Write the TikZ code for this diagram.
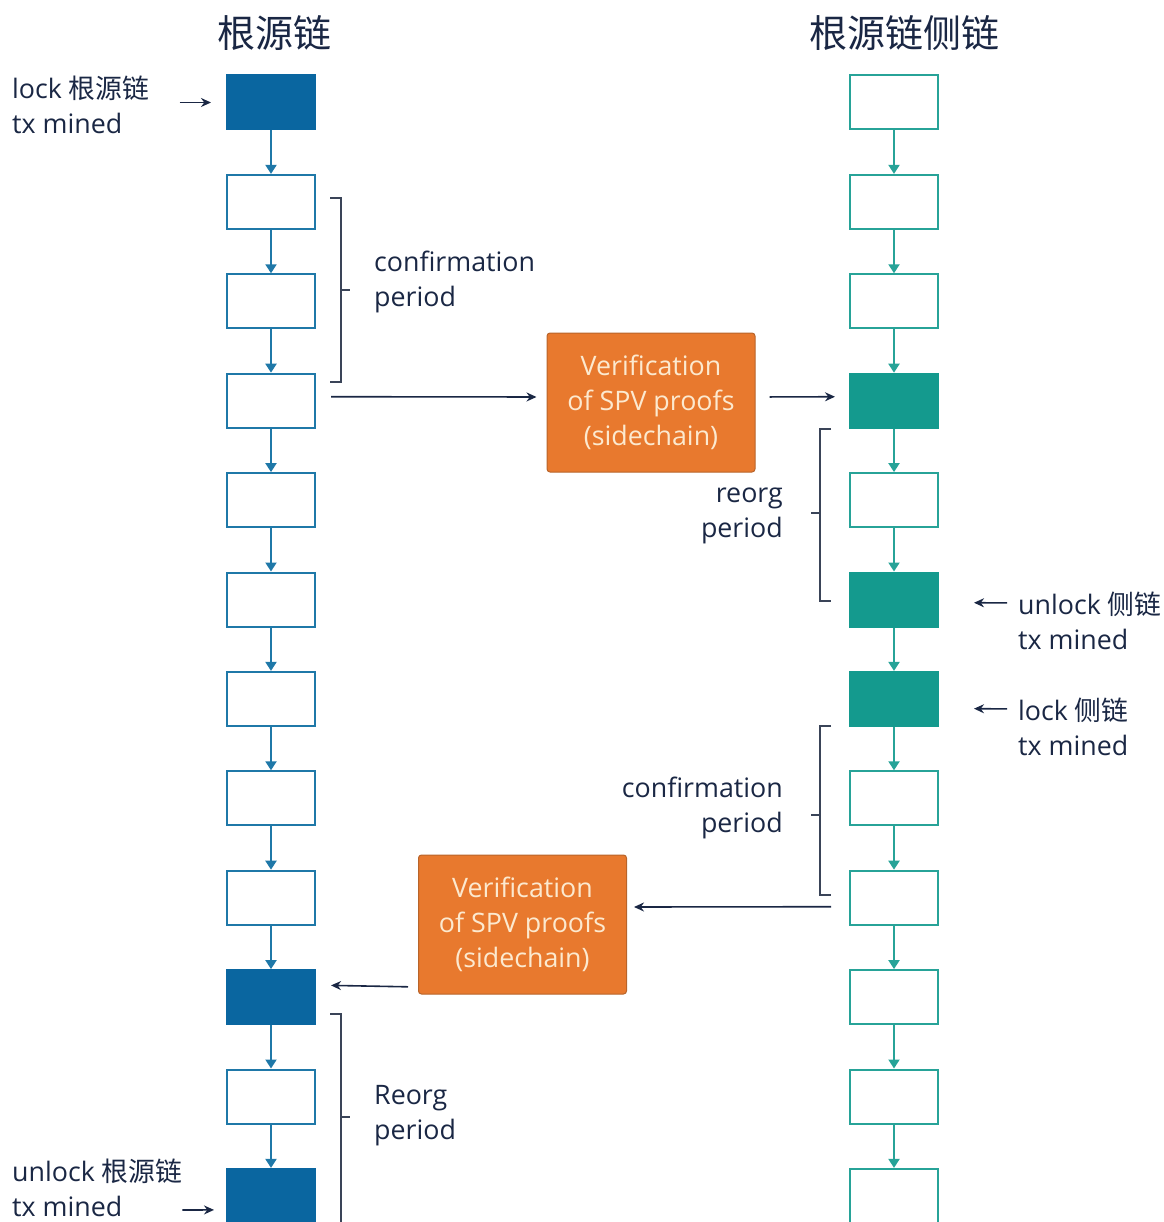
\documentclass[tikz,border=0pt]{standalone}
\usepackage{fontspec}
\setmainfont{Open Sans}
\newfontfamily\cjk{Noto Sans CJK SC}
\usetikzlibrary{calc, positioning, arrows.meta}

\definecolor{navy}{HTML}{1A2744}
\definecolor{rootblue}{HTML}{0A66A0}
\definecolor{rootline}{HTML}{1F78A8}
\definecolor{sidefill}{HTML}{149A8E}
\definecolor{sideline}{HTML}{27A398}
\definecolor{spvorange}{HTML}{E8792E}
\definecolor{spvedge}{HTML}{B8642A}
\definecolor{spvtext}{HTML}{FCE9CF}
\definecolor{bracegray}{HTML}{3A4458}

\tikzset{
  font=\fontsize{26.8}{35}\selectfont,
  % Set arrowhead
  >={Stealth[length=10pt, width=9pt]},
  % root chain block
  rblk/.style={draw=rootline, line width=2pt, fill=white, minimum width=88pt,
    minimum height=54pt, inner sep=0pt},
  rblkon/.style={rblk, fill=rootblue, draw=rootblue},
  % side chain block
  sblk/.style={rblk, draw=sideline},
  sblkon/.style={sblk, fill=sidefill, draw=sidefill},
  % links between blocks
  rlink/.style={draw=rootline, line width=2pt, -{Triangle[width=11pt,length=9pt]}},
  slink/.style={rlink, draw=sideline, fill=sideline},
  % SPV verification box
  vbox/.style={draw=spvedge, fill=spvorange, rounded corners=3pt, line width=1pt,
    minimum width=208pt, minimum height=139pt, align=center, text=spvtext},
  % labels
  note/.style={text=navy, inner sep=0pt},
  title/.style={text=navy, font=\cjk\fontsize{38}{40}\selectfont},
  % arrows of labels
  note->/.style={draw=navy, line width=1.6pt, ->},
  % period brackets
  brace/.style={draw=bracegray, line width=1.2pt},
}

\begin{document}
\begin{tikzpicture}[x=1pt, y=-1pt]
  \useasboundingbox (0,0) rectangle (1163,1222);

  % titles
  \node[title] (tl) at (274,33) {根源链};
  \node[title] (tr) at (904,33) {根源链侧链};

  % the two chains
  \foreach \i/\s in {0/rblkon,1/rblk,2/rblk,3/rblk,4/rblk,5/rblk,6/rblk,7/rblk,
    8/rblk,9/rblkon,10/rblk,11/rblkon}
    \node[\s] (l\i) at (271,102.5+99.4*\i) {};
  \foreach \i/\s in {0/sblk,1/sblk,2/sblk,3/sblkon,4/sblk,5/sblkon,6/sblkon,7/sblk,
    8/sblk,9/sblk,10/sblk,11/sblk}
    \node[\s] (r\i) at (894,102.5+99.4*\i) {};
  \foreach \i [evaluate=\i as \j using int(\i+1)] in {0,...,10} {
    \draw[rlink] (l\i) -- (l\j);
    \draw[slink] (r\i) -- (r\j);
  }

  % verification boxes
  \node[vbox] (ver1) at (651,402.5) {Verification\\of SPV proofs\\(sidechain)};
  \node[vbox] (ver2) at (522.5,924.5) {Verification\\of SPV proofs\\(sidechain)};

  \draw[note->, shorten <=15pt, shorten >=10pt] ($(l3.east)+(0,-4)$) -- ($(ver1.west)+(0,-5.5)$);
  \draw[note->, shorten <=14pt, shorten >=14pt] ($(ver1.east)+(0,-5.5)$) -- ($(r3.west)+(0,-4)$);
  \draw[note->, shorten <=18pt, shorten >=7pt] ($(r8.west)+(0,9)$) -- ($(ver2.east)+(0,-17.5)$);
  \draw[note->, shorten <=10pt, shorten >=15pt] ($(ver2.west)+(0,62.5)$) -- ($(l9.east)+(0,-12)$);

  % lock / unlock labels
  \node[note, anchor=west, align=left] (lockl) at (12,104.5) {lock {\cjk 根源链}\\tx mined};
  \node[note, anchor=west, align=left] (ulockl) at (12,1188) {unlock {\cjk 根源链}\\tx mined};
  \node[note, anchor=west, align=left] (unlockr) at (1018,620.5) {unlock {\cjk 侧链}\\tx mined};
  \node[note, anchor=west, align=left] (lockr) at (1018,726.5) {lock {\cjk 侧链}\\tx mined};

  \draw[note->, shorten <=30pt, shorten >=15pt] (lockl.east |- l0.west) -- (l0.west);
  \draw[note->] ($(ulockl.east)+(0,22)$) -- ($(l11.west)+(-12,14)$);
  \draw[note->, shorten <=11pt, shorten >=35pt] ($(unlockr.west)+(0,-17.5)$) -- ($(r5.east)+(0,3)$);
  \draw[note->, shorten <=11pt, shorten >=35pt] ($(lockr.west)+(0,-17.5)$) -- ($(r6.east)+(0,9.5)$);

  % periods
  \draw[brace] (330,198) -- (341,198) -- (341,382) -- (330,382) (341,290) -- (350,290);
  \node[note, anchor=west, align=left] (conf1) at (374,281.5) {confirmation\\period};
  \draw[brace] (831,429) -- (820,429) -- (820,601) -- (831,601) (820,513) -- (811,513);
  \node[note, anchor=east, align=right] (reorg1) at (783,515.5) {reorg\\period};
  \draw[brace] (831,726) -- (820,726) -- (820,895) -- (831,895) (820,815) -- (811,815);
  \node[note, anchor=east, align=right] (conf2) at (783,807.5) {confirmation\\period};
  \draw[brace] (330,1014) -- (341,1014) -- (341,1230) (341,1117) -- (350,1117);
  \node[note, anchor=west, align=left] (reorg2) at (374,1115.5) {Reorg\\period};
\end{tikzpicture}
\end{document}
